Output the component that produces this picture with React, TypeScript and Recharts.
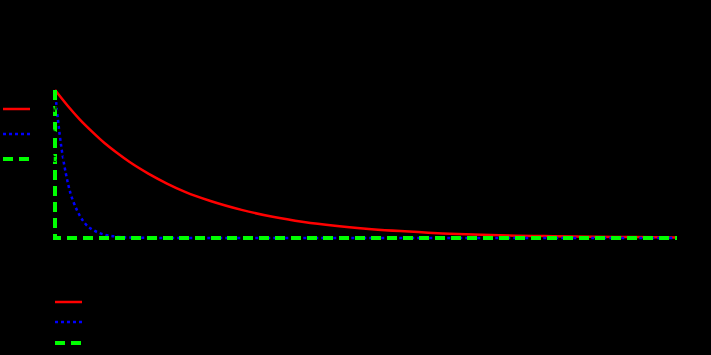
import { LineChart, Line, XAxis, YAxis } from "recharts";

// time points (arbitrary units) and decay values
const tRed = [0, 2, 4, 6, 8, 10, 12, 15, 18, 21, 25, 30, 35, 40, 45, 50, 60, 70, 80, 90, 100];
const redValues = [1, 0.895, 0.8, 0.717, 0.64, 0.574, 0.513, 0.435, 0.368, 0.31, 0.25, 0.19, 0.143, 0.108, 0.082, 0.062, 0.036, 0.02, 0.012, 0.007, 0.004];

const tBlue = [0, 0.5, 1, 1.5, 2, 2.5, 3, 4, 5, 6, 7, 8, 10, 12, 15, 20, 40, 60, 80, 100];
const blueValues = [1, 0.79, 0.62, 0.49, 0.385, 0.3, 0.24, 0.15, 0.09, 0.057, 0.036, 0.022, 0.009, 0.003, 0.001, 0, 0, 0, 0, 0];

const tGreen = [0, 0, 100];
const greenValues = [1, 0, 0];

const xTicks = [0, 20, 40, 60, 80, 100];

const series = [
  { key: "red", name: "slow", color: "#ff0000", width: 2.5, dash: undefined as string | undefined },
  { key: "blue", name: "fast", color: "#0000ff", width: 2.5, dash: "3 3" },
  { key: "green", name: "instant", color: "#00ff00", width: 4, dash: "10 6" },
];

const toRows = (ts: number[], vs: number[]) => ts.map((t, i) => ({ t, v: vs[i] }));
const rows: Record<string, { t: number; v: number }[]> = {
  red: toRows(tRed, redValues),
  blue: toRows(tBlue, blueValues),
  green: toRows(tGreen, greenValues),
};

const LegendBox = ({ left, top, gap }: { left: number; top: number; gap: number }) => (
  <div style={{ position: "absolute", left, top }}>
    {series.map((s, i) => (
      <div key={s.key} style={{ position: "absolute", top: i * gap - 6, left: 0, display: "flex", alignItems: "center", whiteSpace: "nowrap" }}>
        <svg width={29} height={12}>
          <line x1={1} y1={6} x2={28} y2={6} stroke={s.color} strokeWidth={s.width} strokeDasharray={s.dash} strokeLinecap="butt" />
        </svg>
        <span style={{ color: "#000", fontSize: 11, fontFamily: "DejaVu Sans", marginLeft: 5 }}>{s.name}</span>
      </div>
    ))}
  </div>
);

export default function App() {
  return (
    <div style={{ position: "absolute", left: 0, top: 0, width: 711, height: 355, background: "#000", overflow: "hidden" }}>
      <LineChart width={711} height={355} margin={{ top: 90, right: 34, left: 10, bottom: 87 }}>
        <XAxis
          type="number"
          dataKey="t"
          domain={[0, 100]}
          ticks={xTicks}
          height={30}
          axisLine={false}
          tickLine={false}
          tick={{ fill: "#000", fontSize: 12, fontFamily: "DejaVu Sans" }}
        />
        <YAxis type="number" dataKey="v" domain={[0, 1]} width={45} axisLine={false} tickLine={false} tick={false} />
        {series.map((s) => (
          <Line
            key={s.key}
            data={rows[s.key]}
            dataKey="v"
            name={s.name}
            type={s.key === "green" ? "linear" : "monotone"}
            stroke={s.color}
            strokeWidth={s.width}
            strokeDasharray={s.dash}
            dot={false}
            isAnimationActive={false}
          />
        ))}
      </LineChart>
      <LegendBox left={2} top={108} gap={25} />
      <LegendBox left={54} top={301} gap={20.5} />
    </div>
  );
}
